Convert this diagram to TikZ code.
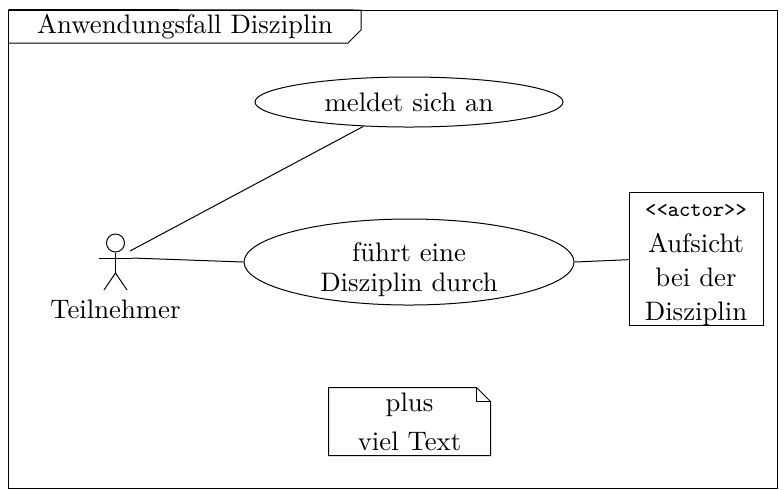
\documentclass[tikz,border=0pt]{standalone}
\usepackage{tikz}
\usetikzlibrary{calc}
\usetikzlibrary{positioning,shapes.geometric}

\begin{document}
\begin{tikzpicture}[
      x=0.4pt, y=-0.4pt, on grid,
      every node/.style={font=\fontsize{10.7}{12}\selectfont},
      usecase/.style={ellipse, draw, inner sep=0pt},
      actorbox/.style={rectangle, draw, align=center, inner sep=0pt, inner ysep=-3pt, minimum width=53.6pt, minimum height=53.2pt},
      notebox/.style={rectangle, align=center, inner sep=0pt, minimum width=64.4pt, minimum height=26.8pt}]
      \useasboundingbox (0,0) rectangle (784,489);

      % Frame
      \node[rectangle, draw, inner sep=0pt, minimum width=307.2pt, minimum height=191.2pt] (frame) at (393,249) {};
      \node (title) at (185,27) {Anwendungsfall Disziplin};
      \draw (frame.north west) -- (361,10) -- (361,30) -- (348,43) -- (9,43);

      % Nodes
      \node[usecase, minimum width=123.2pt, minimum height=20pt] (anmelden) at (409,102) {meldet sich an};
      \node[usecase, below=64pt of anmelden, inner ysep=-2pt, minimum width=132pt, minimum height=34.4pt, align=center] (durchfuehren) {\rule{0pt}{13.6pt}f\"uhrt eine\\Disziplin durch};
      \node[actorbox] (aufsicht) at (696,258.5) {{\rule{0pt}{10pt}\fontsize{8.6}{10}\ttfamily{<}{<}actor{>}{>}}\\[2.4pt]Aufsicht\\[1.6pt]bei der\\[1.6pt]Disziplin};
      \node[notebox] (note) at (409.5,421.5) {plus\\[3.6pt]viel Text};

      % Actor
      \node[circle, draw, inner sep=0pt, minimum size=7.2pt] (kopf) at (115.5,243) {};
      \node (teilnehmer) at (115.5,309) {Teilnehmer};
      \coordinate (armL) at (99,258);
      \coordinate (armR) at (132,258);
      \coordinate (huefte) at (115.5,273);
      \coordinate (schulter) at (130,251);
      \draw (kopf.south) -- (huefte);
      \draw (armL) -- (armR);
      \draw (104,290) -- (huefte) -- (127,290);

      % Note corner
      \draw (note.south west) -- (note.north west) -- ($(note.north east)+(-14,0)$) -- ($(note.north east)+(0,14)$) -- (note.south east) -- cycle;
      \draw ($(note.north east)+(-14,0)$) -- ($(note.north east)+(-14,14)$) -- ($(note.north east)+(0,14)$);

      % Edges
      \path (schulter) edge (anmelden)
            (armR) edge (durchfuehren.west)
            (durchfuehren.east) edge (aufsicht.181.5)
            ;

\end{tikzpicture}
\end{document}
